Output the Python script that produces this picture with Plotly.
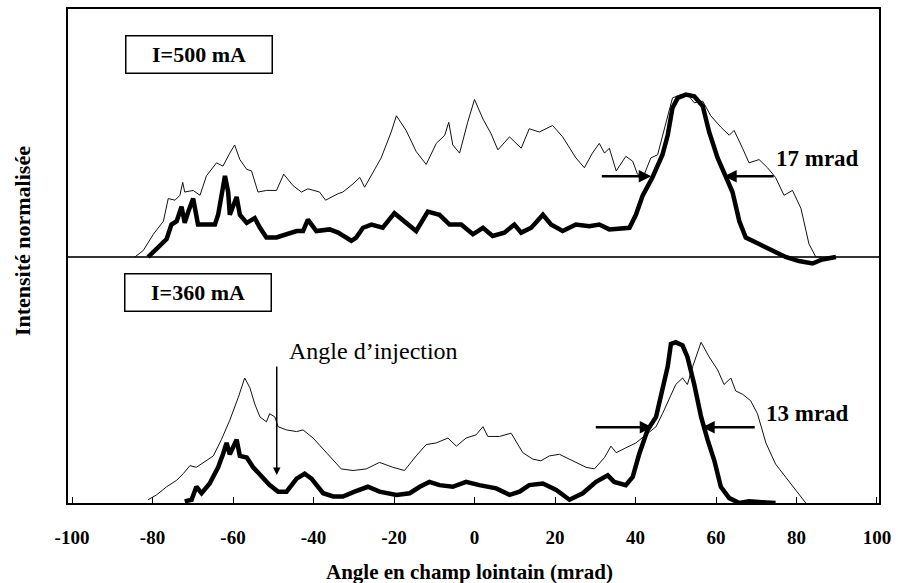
import plotly.graph_objects as go

# ---------------- data (angle in mrad, normalized intensity) ----------------
top_thick_x = [-81.1, -78.2, -76.5, -75.3, -74.0, -72.8, -72.0, -71.1, -69.9, -68.7, -67.0, -64.5, -63.7,
               -62.0, -61.2, -60.8, -59.1, -58.3, -56.6, -54.6, -53.3, -51.7, -49.2, -46.7, -44.2, -42.6,
               -41.4, -39.3, -36.0, -33.9, -30.6, -29.4, -27.7, -25.6, -22.8, -19.9, -17.4, -14.5, -11.6,
               -8.7, -6.2, -3.3, -0.4, 2.1, 4.5, 7.4, 9.9, 11.6, 14.1, 16.1, 17.0, 19.0, 21.9, 25.2, 28.5,
               31.0, 33.5, 38.5, 40.1, 41.8, 44.2, 46.7, 48.0, 49.2, 50.5, 52.5, 54.6, 56.7, 58.3, 60.4,
               62.5, 64.1, 65.8, 67.4, 70.7, 74.0, 77.3, 80.6, 84.0, 86.4, 89.8]
top_thick_y = [0.0, 0.07, 0.11, 0.20, 0.22, 0.31, 0.21, 0.28, 0.36, 0.20, 0.20, 0.20, 0.26,
               0.50, 0.40, 0.26, 0.37, 0.26, 0.21, 0.24, 0.18, 0.12, 0.12, 0.14, 0.16, 0.16,
               0.23, 0.16, 0.17, 0.15, 0.10, 0.12, 0.18, 0.20, 0.18, 0.27, 0.22, 0.16, 0.28,
               0.26, 0.20, 0.20, 0.14, 0.18, 0.13, 0.15, 0.20, 0.15, 0.18, 0.24, 0.26, 0.20, 0.16, 0.20, 0.19,
               0.20, 0.17, 0.18, 0.26, 0.38, 0.49, 0.63, 0.75, 0.92, 0.98, 1.00, 0.99, 0.93, 0.77, 0.61,
               0.49, 0.40, 0.22, 0.12, 0.08, 0.04, 0.0, -0.025, -0.04, -0.015, 0.0]

top_thin_x = [-84.4, -82.3, -79.8, -77.3, -76.1, -74.4, -73.2, -72.5, -72.0, -69.9, -68.2, -66.6, -64.1,
              -62.5, -60.8, -59.6, -58.3, -56.6, -55.4, -53.8, -51.7, -49.2, -47.4, -45.1, -43.0, -41.4,
              -38.5, -37.0, -33.9, -32.7, -30.2, -28.5, -27.3, -25.2, -23.2, -20.7, -19.4, -17.0, -14.5,
              -12.0, -9.5, -7.4, -6.4, -5.4, -3.7, -1.7, 0.0, 2.1, 4.1, 5.8, 8.7, 11.6, 13.6, 16.1, 19.4,
              21.9, 25.2, 27.3, 29.3, 31.0, 32.3, 33.5, 35.2, 37.6, 39.3, 40.5, 42.2, 43.8, 45.5, 47.6,
              49.2, 51.3, 53.3, 54.6, 56.7, 58.7, 61.2, 63.3, 64.5, 66.6, 68.2, 70.7, 72.8, 74.8, 76.9,
              79.0, 81.1, 83.1, 84.8, 86.4]
top_thin_y = [0.0, 0.04, 0.14, 0.22, 0.36, 0.35, 0.38, 0.46, 0.40, 0.41, 0.38, 0.50, 0.58,
              0.56, 0.64, 0.69, 0.60, 0.54, 0.53, 0.40, 0.41, 0.41, 0.51, 0.44, 0.40, 0.42,
              0.40, 0.35, 0.39, 0.40, 0.45, 0.49, 0.43, 0.52, 0.61, 0.77, 0.87, 0.78, 0.65,
              0.57, 0.70, 0.75, 0.83, 0.69, 0.64, 0.83, 0.97, 0.85, 0.76, 0.66, 0.74, 0.67, 0.79, 0.77, 0.81,
              0.74, 0.61, 0.55, 0.64, 0.70, 0.64, 0.67, 0.53, 0.62, 0.59, 0.51, 0.51, 0.61, 0.63, 0.83,
              0.98, 1.00, 0.99, 0.95, 0.96, 0.87, 0.80, 0.75, 0.78, 0.67, 0.58, 0.60, 0.55, 0.49, 0.38,
              0.41, 0.30, 0.08, 0.0, 0.0]

bot_thick_x = [-72.0, -70.3, -69.1, -67.8, -65.8, -63.7, -62.5, -61.6, -60.8, -59.1, -58.3, -56.6, -55.0,
               -52.9, -50.9, -48.8, -46.7, -44.2, -42.2, -40.5, -37.6, -35.1, -32.7, -29.8, -26.5, -23.6,
               -19.4, -16.1, -13.6, -11.2, -8.7, -5.4, -2.1, 1.2, 5.4, 8.7, 11.2, 13.6, 17.0, 20.3, 23.6,
               26.9, 30.2, 33.1, 34.7, 37.6, 39.3, 40.9, 43.0, 45.1, 46.7, 48.0, 48.8, 50.0, 51.7, 52.9,
               54.6, 56.3, 57.9, 59.6, 61.2, 63.3, 65.8, 68.2, 71.5, 74.8]
bot_thick_y = [0.01, 0.02, 0.10, 0.06, 0.12, 0.22, 0.30, 0.37, 0.30, 0.39, 0.29, 0.28, 0.22,
               0.16, 0.11, 0.07, 0.07, 0.15, 0.18, 0.15, 0.06, 0.04, 0.04, 0.07, 0.10, 0.07,
               0.05, 0.06, 0.10, 0.13, 0.11, 0.10, 0.13, 0.11, 0.09, 0.05, 0.07, 0.11, 0.12, 0.08, 0.02,
               0.06, 0.13, 0.17, 0.13, 0.11, 0.16, 0.30, 0.45, 0.53, 0.69, 0.84, 0.98, 0.99, 0.97, 0.90,
               0.73, 0.53, 0.39, 0.26, 0.10, 0.03, 0.0, 0.01, 0.005, 0.0]

bot_thin_x = [-81.1, -79.0, -76.5, -74.0, -72.4, -70.7, -69.1, -66.6, -64.9, -62.9, -60.8, -58.7, -57.1,
              -55.8, -54.6, -53.3, -51.7, -50.9, -49.6, -48.8, -46.7, -44.2, -42.6, -40.1, -37.6, -35.1,
              -33.1, -30.2, -26.9, -23.6, -20.3, -17.4, -14.5, -12.0, -9.5, -6.6, -4.5, -2.1, 0.4, 2.1,
              3.3, 6.2, 9.1, 12.0, 14.5, 16.5, 18.6, 21.1, 24.4, 27.7, 29.8, 32.3, 33.9, 35.2, 37.6, 40.1,
              42.6, 45.1, 46.7, 48.8, 50.0, 51.7, 52.9, 54.2, 56.3, 58.3, 60.4, 62.0, 63.7, 64.9, 66.6,
              68.6, 70.3, 72.4, 74.8, 77.3, 79.8, 82.3]
bot_thin_y = [0.02, 0.05, 0.10, 0.14, 0.18, 0.23, 0.22, 0.26, 0.29, 0.39, 0.51, 0.65, 0.77,
              0.71, 0.61, 0.53, 0.50, 0.55, 0.53, 0.47, 0.45, 0.44, 0.45, 0.40, 0.33, 0.26,
              0.21, 0.20, 0.21, 0.25, 0.22, 0.20, 0.29, 0.36, 0.37, 0.40, 0.35, 0.40, 0.42, 0.47,
              0.41, 0.41, 0.43, 0.31, 0.27, 0.26, 0.29, 0.30, 0.26, 0.22, 0.21, 0.28, 0.35, 0.31, 0.34, 0.37,
              0.42, 0.47, 0.55, 0.67, 0.73, 0.77, 0.73, 0.84, 0.99, 0.90, 0.82, 0.73, 0.77, 0.69, 0.67,
              0.63, 0.55, 0.37, 0.24, 0.16, 0.08, 0.0]

x_tick_vals = [-100, -80, -60, -40, -20, 0, 20, 40, 60, 80, 100]
x_tick_text = ["-100", "-80", "-60", "-40", "-20", "0", "20", "40", "60", "80", "100"]
label_top = "I=500 mA"
label_bot = "I=360 mA"
fwhm_top = "17 mrad"
fwhm_bot = "13 mrad"
inj_label = "Angle d\u2019injection"
x_title = "Angle en champ lointain (mrad)"
y_title = "Intensité normalisée"

# ---------------- layout geometry (pixels) ----------------
W, H = 898, 583
PL, PR, PT, PB = 68, 880, 7, 503


def fx(p):
    return (p - PL) / (PR - PL)


def fy(p):
    return (PB - p) / (PB - PT)


SERIF = "Liberation Serif"
fig = go.Figure()

thin = dict(color="#111", width=1)
thick = dict(color="black", width=4.5)

fig.add_trace(go.Scatter(x=bot_thin_x, y=bot_thin_y, mode="lines", line=thin, yaxis="y"))
fig.add_trace(go.Scatter(x=bot_thick_x, y=bot_thick_y, mode="lines", line=thick, yaxis="y"))
fig.add_trace(go.Scatter(x=top_thin_x, y=top_thin_y, mode="lines", line=thin, yaxis="y2"))
fig.add_trace(go.Scatter(x=top_thick_x, y=top_thick_y, mode="lines", line=thick, yaxis="y2"))

scale = 163.0  # px per unit intensity
fig.update_layout(
    width=W, height=H,
    margin=dict(l=PL, r=W - PR, t=PT, b=H - PB, pad=0),
    paper_bgcolor="white", plot_bgcolor="white",
    showlegend=False,
    xaxis=dict(range=[-101, 100.5], tickvals=x_tick_vals, ticktext=x_tick_text, ticks="inside",
               ticklen=6, tickwidth=1, tickcolor="black", showline=True, linecolor="black",
               linewidth=1.5, mirror=True, showgrid=False, zeroline=False,
               tickfont=dict(family=SERIF, size=19, color="black", weight="bold"),
               ticklabelstandoff=16),
    yaxis=dict(range=[0, (PB - PT) / scale], showticklabels=False, ticks="", showgrid=False,
               zeroline=False, showline=True, linecolor="black", linewidth=1.5, mirror=True),
    yaxis2=dict(range=[-(PB - 256) / scale, (256 - PT) / scale], overlaying="y", showticklabels=False,
                ticks="", showgrid=False, zeroline=True, zerolinecolor="#333", zerolinewidth=1.5,
                showline=False),
)

ann = []
# boxed labels
for txt, cx, cy in [(label_top, 199.5, 53), (label_bot, 198, 292)]:
    ann.append(dict(text="<b>%s</b>" % txt, xref="paper", yref="paper", x=fx(cx), y=fy(cy),
                    xanchor="center", yanchor="middle", showarrow=False,
                    font=dict(family=SERIF, size=22, color="black"),
                    bordercolor="black", borderwidth=1.5, borderpad=1, width=143, height=34,
                    bgcolor="white"))
# FWHM labels
ann.append(dict(text="<b>%s</b>" % fwhm_top, xref="paper", yref="paper", x=fx(818), y=fy(157),
                xanchor="center", yanchor="middle", showarrow=False,
                font=dict(family=SERIF, size=23, color="black")))
ann.append(dict(text="<b>%s</b>" % fwhm_bot, xref="paper", yref="paper", x=fx(808), y=fy(413),
                xanchor="center", yanchor="middle", showarrow=False,
                font=dict(family=SERIF, size=23, color="black")))
ann.append(dict(text=inj_label, xref="paper", yref="paper", x=fx(374), y=fy(350),
                xanchor="center", yanchor="middle", showarrow=False,
                font=dict(family=SERIF, size=24, color="black")))
# arrows (tip x,y ; tail offset ax,ay)
for tipx, tipy, ax, ay, w in [(652, 175, -51, 0, 2.5), (725, 175, 51, 0, 2.5),
                              (653, 427, -58, 0, 2.5), (703, 427, 54, 0, 2.5),
                              (277, 475, 0, -110, 1.5)]:
    ann.append(dict(text="", xref="paper", yref="paper", x=fx(tipx), y=fy(tipy), ax=ax, ay=ay,
                    axref="pixel", ayref="pixel", showarrow=True, arrowhead=2, arrowsize=1,
                    arrowwidth=w, arrowcolor="black"))
# axis titles
ann.append(dict(text="<b>%s</b>" % x_title, xref="paper", yref="paper", x=fx(470), y=fy(572),
                xanchor="center", yanchor="middle", showarrow=False,
                font=dict(family=SERIF, size=21, color="black")))
ann.append(dict(text="<b>%s</b>" % y_title, xref="paper", yref="paper", x=fx(22), y=fy(240),
                xanchor="center", yanchor="middle", showarrow=False, textangle=-90,
                font=dict(family=SERIF, size=22, color="black")))
fig.update_layout(annotations=ann)

fig.write_html("out.html", config={"displayModeBar": False},
               post_script="document.body.style.margin='0';")
